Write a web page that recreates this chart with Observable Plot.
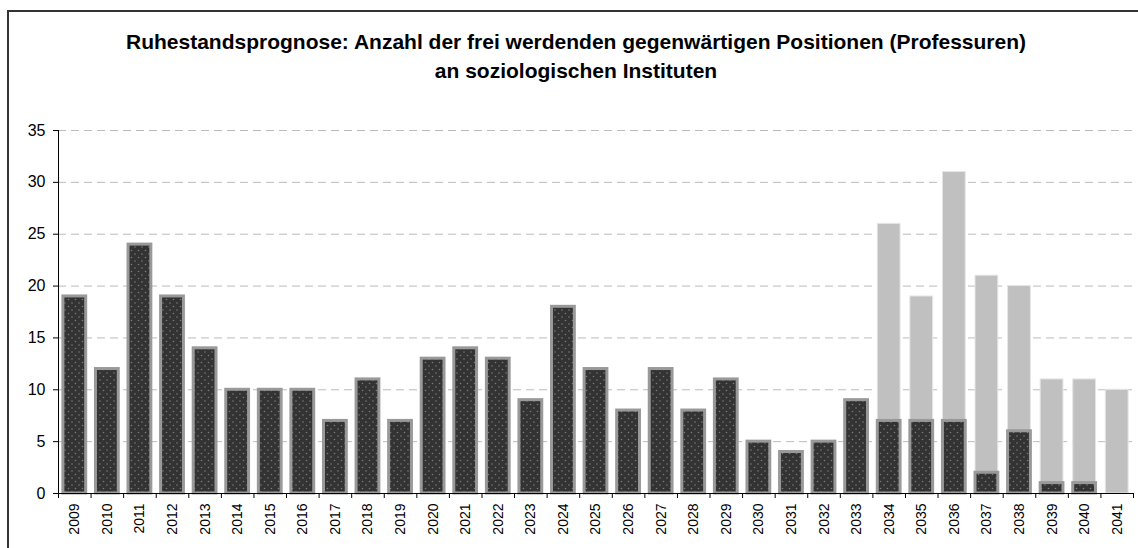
<!DOCTYPE html>
<html><head><meta charset="utf-8">
<script src="https://cdn.jsdelivr.net/npm/d3@7"></script>
<script src="https://cdn.jsdelivr.net/npm/@observablehq/plot@0.6"></script>
<style>
body{margin:0;background:#fff;font-family:"Liberation Sans",Arial,sans-serif;}
#wrap{position:relative;width:1138px;height:548px;overflow:hidden;background:#fff}
#frame{position:absolute;left:7px;top:10px;width:1200px;height:600px;border:2px solid #333;box-sizing:border-box}
.t{position:absolute;left:0;width:1152px;text-align:center;font-weight:bold;font-size:21px;color:#000;white-space:nowrap;line-height:21px}
#chart{position:absolute;left:0;top:0}
</style></head>
<body><div id="wrap"><div id="frame"></div>
<div class="t" id="t1" style="top:31px">Ruhestandsprognose: Anzahl der frei werdenden gegenwärtigen Positionen (Professuren)</div>
<div class="t" id="t2" style="top:60px">an soziologischen Instituten</div>
<div id="chart"></div></div>
<script>
const years = ["2009","2010","2011","2012","2013","2014","2015","2016","2017","2018","2019","2020","2021","2022","2023","2024","2025","2026","2027","2028","2029","2030","2031","2032","2033","2034","2035","2036","2037","2038","2039","2040","2041"];
const current = [19,12,24,19,14,10,10,10,7,11,7,13,14,13,9,18,12,8,12,8,11,5,4,5,9,7,7,7,2,6,1,1,0];
const prognose = [null,null,null,null,null,null,null,null,null,null,null,null,null,null,null,null,null,null,null,null,null,null,null,null,null,26,19,31,21,20,11,11,10];
const yTicks = [0,5,10,15,20,25,30,35];

const W = 1138, H = 548, mL = 58, mR = 5, mT = 130, mB = 55;
const step = (W - mL - mR) / years.length;

const darkData = years.map((y,i)=>({year:y, v:current[i]})).filter(d=>d.v>0);
const grayData = years.map((y,i)=>({year:y, v:prognose[i]})).filter(d=>d.v!=null);

const plot = Plot.plot({
  width: W, height: H,
  marginLeft: mL, marginRight: mR, marginTop: mT, marginBottom: mB,
  style: {fontFamily: '"Liberation Sans", Arial, sans-serif', color: "#000", background: "transparent"},
  x: {type: "band", domain: years, paddingInner: 0.3, paddingOuter: 0.15, align: 0.5, round: false},
  y: {domain: [0, 35]},
  marks: [
    Plot.gridY(yTicks.filter(d=>d>0), {stroke: "#bbb", strokeOpacity: 1, strokeDasharray: "8,5", strokeWidth: 1}),
    Plot.barY(grayData, {x: "year", y: "v", fill: "#c0c0c0", stroke: "#e6e6e6", strokeWidth: 1}),
    Plot.barY(darkData, {x: "year", y: "v", fill: "url(#dots)", stroke: "#999", strokeWidth: 3}),
    Plot.ruleY([0], {stroke: "#000"}),
    Plot.ruleX([years[0]], {dx: -step/2, y1: 0, y2: 35, stroke: "#000"}),
    Plot.ruleX(years, {dx: -step/2, y1: 0, y2: -0.48, stroke: "#000"}),
    Plot.ruleX([years[years.length-1]], {dx: step/2, y1: 0, y2: -0.48, stroke: "#000"}),
    Plot.axisY({ticks: yTicks, tickSize: 5, tickPadding: 8, fontSize: 16, label: null, stroke: "#000"}),
    Plot.axisX({tickRotate: -90, tickSize: 0, tickPadding: 10, fontSize: 14, label: null})
  ]
});
document.getElementById("chart").appendChild(plot);

const ns = "http://www.w3.org/2000/svg";
const defs = document.createElementNS(ns, "defs");
defs.innerHTML = '<pattern id="dots" width="7" height="7" patternUnits="userSpaceOnUse"><rect width="7" height="7" fill="#333"/><circle cx="2" cy="2" r="0.8" fill="#7a7a7a"/><circle cx="5.5" cy="5.5" r="0.8" fill="#7a7a7a"/></pattern>';
plot.insertBefore(defs, plot.firstChild);
</script>
</body></html>
